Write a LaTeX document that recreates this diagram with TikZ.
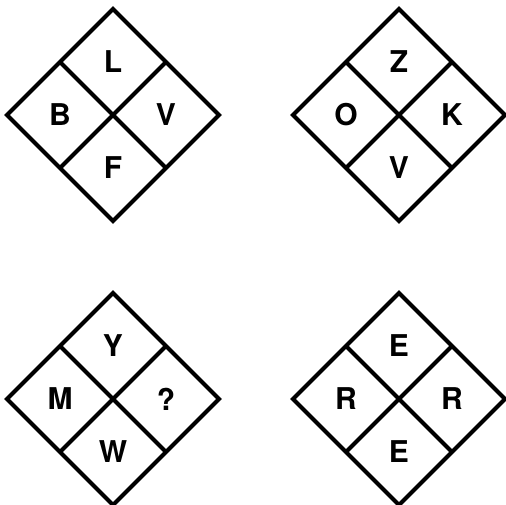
\documentclass[tikz,border=0pt]{standalone}
\usepackage{fontspec}
\setmainfont{TeX Gyre Heros}

\begin{document}
\begin{tikzpicture}[x=1pt,y=-1pt]

        % Styles
        \tikzset{
          frame/.style={line width=4pt,line join=miter},
          letter/.style={font=\bfseries\fontsize{30}{36}\selectfont,
                         inner sep=0pt}
        }

        % half diagonal of a diamond and of a cell
        \def\rad{106}
        \def\half{53}

        \useasboundingbox (0,0) rectangle (506,504);

        %-------------------------------
        % Four diamonds: name/centre/letters (top, left, right, bottom)
        %-------------------------------
        \foreach \name/\cx/\cy/\n/\w/\e/\s in {
            TL/113/115/L/B/V/F, TR/399/115/Z/O/K/V,
            BL/113/399/Y/M/?/W, BR/399/399/E/R/R/E}{
          \begin{scope}[shift={(\cx,\cy)}]
            % outline
            \draw[frame] (0,-\rad) -- (\rad,0) -- (0,\rad) -- (-\rad,0) -- cycle;
            % inner cross
            \draw[frame] (-\half,-\half) -- (\half,\half);
            \draw[frame] (\half,-\half) -- (-\half,\half);
            % letters
            \node[letter] (\name-n) at (0,-\half) {\n};
            \node[letter] (\name-w) at (-\half,0) {\w};
            \node[letter] (\name-e) at ( \half,0) {\e};
            \node[letter] (\name-s) at (0, \half) {\s};
          \end{scope}
        }

\end{tikzpicture}
\end{document}
